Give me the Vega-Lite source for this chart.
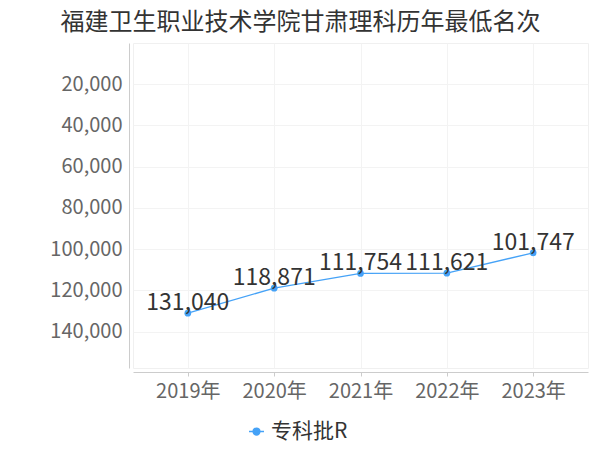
{
  "$schema": "https://vega.github.io/schema/vega-lite/v6.json",
  "width": 455,
  "height": 325,
  "autosize": {"type": "none"},
  "padding": {"left": 133, "top": 43, "right": 12, "bottom": 82},
  "title": {
    "text": "福建卫生职业技术学院甘肃理科历年最低名次",
    "fontSize": 24,
    "fontWeight": "normal",
    "color": "#333333",
    "anchor": "middle",
    "dx": -60,
    "offset": 8
  },
  "config": {
    "font": "Noto Sans CJK SC",
    "view": {"stroke": "#f0f0f0"}
  },
  "data": {
    "values": [
      {"year": "2019", "value": 131040, "type": "专科批R"},
      {"year": "2020", "value": 118871, "type": "专科批R"},
      {"year": "2021", "value": 111754, "type": "专科批R"},
      {"year": "2022", "value": 111621, "type": "专科批R"},
      {"year": "2023", "value": 101747, "type": "专科批R"}
    ]
  },
  "encoding": {
    "x": {
      "field": "year",
      "type": "ordinal",
      "scale": {"type": "point", "padding": 0.635},
      "axis": {
        "title": null,
        "labelAngle": 0,
        "labelExpr": "datum.label + '年'",
        "labelFontSize": 20,
        "labelColor": "#666666",
        "labelPadding": 5,
        "domainColor": "#cccccc",
        "tickColor": "#cccccc",
        "tickSize": 4,
        "offset": 4,
        "grid": true,
        "gridColor": "#f3f3f3"
      }
    },
    "y": {
      "field": "value",
      "type": "quantitative",
      "scale": {"domain": [0, 157600], "reverse": true, "nice": false, "zero": false},
      "axis": {
        "title": null,
        "values": [20000, 40000, 60000, 80000, 100000, 120000, 140000],
        "format": ",.0f",
        "labelFontSize": 20,
        "labelColor": "#666666",
        "labelPadding": 7,
        "ticks": false,
        "domainColor": "#cccccc",
        "offset": 4,
        "grid": true,
        "gridColor": "#f3f3f3"
      }
    },
    "color": {
      "field": "type",
      "type": "nominal",
      "scale": {"domain": ["专科批R"], "range": ["#45a2f7"]},
      "legend": {
        "title": null,
        "orient": "none",
        "legendX": 113,
        "legendY": 378,
        "labelFontSize": 21,
        "labelColor": "#333333",
        "symbolType": "M-1,0H1M-0.45,0a0.45,0.45 0 1,0 0.9,0a0.45,0.45 0 1,0 -0.9,0",
        "symbolSize": 225,
        "symbolStrokeWidth": 1.5,
        "symbolFillColor": "#45a2f7",
        "symbolStrokeColor": "#45a2f7"
      }
    }
  },
  "layer": [
    {"mark": {"type": "line", "strokeWidth": 1.3}},
    {"mark": {"type": "point", "filled": true, "size": 45, "opacity": 1}},
    {
      "mark": {"type": "text", "fontSize": 23, "color": "#333333", "baseline": "alphabetic", "dy": -3},
      "encoding": {
        "text": {"field": "value", "type": "quantitative", "format": ",.0f"},
        "color": {"value": "#333333"}
      }
    }
  ]
}
